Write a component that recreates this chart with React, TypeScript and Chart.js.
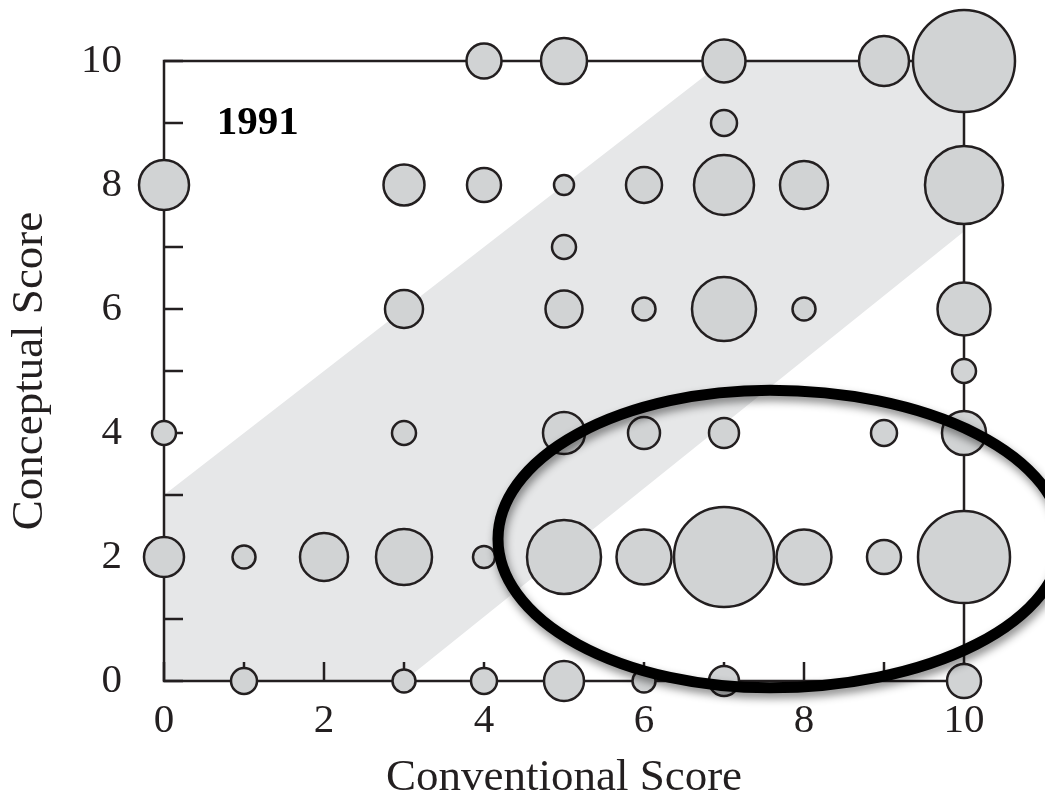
import React, { useEffect, useRef } from 'react';
import { Chart, registerables } from 'chart.js';

Chart.register(...registerables);

// ---- data ----
const xTickValues = [0, 1, 2, 3, 4, 5, 6, 7, 8, 9, 10];
const yTickValues = [0, 1, 2, 3, 4, 5, 6, 7, 8, 9, 10];

const bubbleX = [
  4, 5, 7, 9, 10,
  7,
  0, 3, 4, 5, 6, 7, 8, 10,
  5,
  3, 5, 6, 7, 8, 10,
  10,
  0, 3, 5, 6, 7, 9, 10,
  0, 1, 2, 3, 4, 5, 6, 7, 8, 9, 10,
  1, 3, 4, 5, 6, 7, 10,
];
const bubbleY = [
  10, 10, 10, 10, 10,
  9,
  8, 8, 8, 8, 8, 8, 8, 8,
  7,
  6, 6, 6, 6, 6, 6,
  5,
  4, 4, 4, 4, 4, 4, 4,
  2, 2, 2, 2, 2, 2, 2, 2, 2, 2, 2,
  0, 0, 0, 0, 0, 0, 0,
];
const bubbleRadius = [
  17.5, 23, 21.5, 25, 51,
  13,
  25, 20.5, 17, 10, 18, 30, 24, 39,
  12,
  19, 18.5, 11.5, 32, 11.5, 26.5,
  12,
  12, 12, 21, 16, 15, 13, 22,
  20, 11.5, 24, 28, 11, 37, 27.5, 50, 27.5, 17, 46,
  13, 11.5, 13, 20, 11.5, 15, 17,
];

// shaded diagonal band (upper and lower boundaries)
const bandUpperX = [0, 7, 10];
const bandUpperY = [3, 10, 10];
const bandLowerX = [0, 3, 10];
const bandLowerY = [0, 0, 7.25];

// highlight loop (data units): centre, left / right half-widths, half-height
const loopCenter = [7.575, 2.29];
const loopHalfWidthLeft = 3.4;
const loopHalfWidthRight = 3.65;
const loopHalfHeight = 2.4;

const yearLabel = '1991';
const yearLabelPos = [0.66, 9];

const xTitle = 'Conventional Score';
const yTitle = 'Conceptual Score';

const FONT = "'Liberation Serif', 'Times New Roman', serif";
const INK = '#231f20';

const decorPlugin = {
  id: 'decor',
  beforeDatasetDraw(chart: any, args: any) {
    if (args.index !== 0) return;
    const { ctx, chartArea } = chart;
    const xs = chart.scales.x;
    const ys = chart.scales.y;
    ctx.save();
    ctx.strokeStyle = INK;
    ctx.lineWidth = 2.5;
    ctx.lineCap = 'butt';
    ctx.strokeRect(chartArea.left, chartArea.top, chartArea.right - chartArea.left, chartArea.bottom - chartArea.top);
    ctx.beginPath();
    xTickValues.forEach((v) => {
      const px = xs.getPixelForValue(v);
      ctx.moveTo(px, chartArea.bottom);
      ctx.lineTo(px, chartArea.bottom - 19);
    });
    yTickValues.forEach((v) => {
      const py = ys.getPixelForValue(v);
      ctx.moveTo(chartArea.left, py);
      ctx.lineTo(chartArea.left + 19, py);
    });
    ctx.stroke();
    ctx.restore();
  },
  afterDatasetsDraw(chart: any) {
    const { ctx } = chart;
    const xs = chart.scales.x;
    const ys = chart.scales.y;
    // year label
    ctx.save();
    ctx.font = `bold 41px ${FONT}`;
    ctx.fillStyle = '#000';
    ctx.textAlign = 'left';
    ctx.textBaseline = 'middle';
    ctx.fillText(yearLabel, xs.getPixelForValue(yearLabelPos[0]), ys.getPixelForValue(yearLabelPos[1]));
    ctx.restore();
    // hand-drawn style loop
    const cx = xs.getPixelForValue(loopCenter[0]);
    const cy = ys.getPixelForValue(loopCenter[1]);
    const rxL = cx - xs.getPixelForValue(loopCenter[0] - loopHalfWidthLeft);
    const rxR = xs.getPixelForValue(loopCenter[0] + loopHalfWidthRight) - cx;
    const ry = cy - ys.getPixelForValue(loopCenter[1] + loopHalfHeight);
    ctx.save();
    ctx.shadowColor = 'rgba(0,0,0,0.45)';
    ctx.shadowBlur = 8;
    ctx.shadowOffsetX = 2;
    ctx.shadowOffsetY = 5;
    ctx.strokeStyle = '#000';
    ctx.lineWidth = 11;
    ctx.beginPath();
    ctx.ellipse(cx, cy, rxR, ry, 0, -Math.PI / 2, Math.PI / 2);
    ctx.ellipse(cx, cy, rxL, ry, 0, Math.PI / 2, (3 * Math.PI) / 2);
    ctx.closePath();
    ctx.stroke();
    ctx.restore();
  },
};

export default function App() {
  const ref = useRef<HTMLCanvasElement | null>(null);
  useEffect(() => {
    if (!ref.current) return;
    const chart = new Chart(ref.current, {
      type: 'bubble',
      data: {
        datasets: [
          {
            type: 'bubble',
            data: bubbleX.map((x, i) => ({ x, y: bubbleY[i], r: bubbleRadius[i] })),
            backgroundColor: '#d1d3d4',
            borderColor: INK,
            borderWidth: 2.5,
            clip: false,
            order: 0,
          } as any,
          {
            type: 'line',
            data: bandUpperX.map((x, i) => ({ x, y: bandUpperY[i] })),
            borderColor: 'rgba(0,0,0,0)',
            borderWidth: 0,
            pointRadius: 0,
            backgroundColor: '#e6e7e8',
            fill: 2,
            tension: 0,
            order: 2,
          } as any,
          {
            type: 'line',
            data: bandLowerX.map((x, i) => ({ x, y: bandLowerY[i] })),
            borderColor: 'rgba(0,0,0,0)',
            borderWidth: 0,
            pointRadius: 0,
            backgroundColor: '#e6e7e8',
            fill: false,
            tension: 0,
            order: 3,
          } as any,
        ],
      },
      options: {
        responsive: false,
        animation: false,
        events: [],
        layout: { autoPadding: false, padding: { left: 0, top: 61, right: 81, bottom: 0 } },
        plugins: { legend: { display: false }, tooltip: { enabled: false } },
        scales: {
          x: {
            type: 'linear',
            min: 0,
            max: 10,
            afterFit: (s: any) => { s.height = 117; s.paddingLeft = 0; s.paddingRight = 0; },
            afterBuildTicks: (s: any) => { s.ticks = xTickValues.map((v) => ({ value: v })); },
            ticks: {
              autoSkip: false,
              padding: 16,
              color: INK,
              font: { family: FONT, size: 41, lineHeight: 1.2 },
              callback: (v: any) => (Number(v) % 2 === 0 ? String(v) : ''),
            },
            grid: { display: false, drawTicks: false },
            border: { display: false },
            title: {
              display: true,
              text: xTitle,
              color: INK,
              padding: 0,
              font: { family: FONT, size: 45, lineHeight: 0.9 },
            },
          },
          y: {
            type: 'linear',
            min: 0,
            max: 10,
            afterFit: (s: any) => { s.width = 164; s.paddingTop = 0; s.paddingBottom = 0; },
            afterBuildTicks: (s: any) => { s.ticks = yTickValues.map((v) => ({ value: v })); },
            ticks: {
              autoSkip: false,
              padding: 42,
              color: INK,
              font: { family: FONT, size: 41, lineHeight: 0.4 },
              callback: (v: any) => (Number(v) % 2 === 0 ? String(v) : ''),
            },
            grid: { display: false, drawTicks: false },
            border: { display: false },
            title: {
              display: true,
              text: yTitle,
              color: INK,
              padding: { top: 3, bottom: 0 },
              font: { family: FONT, size: 45, lineHeight: 1.2 },
            },
          },
        },
      },
      plugins: [decorPlugin],
    } as any);
    return () => chart.destroy();
  }, []);
  return (
    <div style={{ position: 'absolute', left: 0, top: 0, width: 1045, height: 798, background: '#fff' }}>
      <canvas ref={ref} width={1045} height={798} style={{ display: 'block', width: 1045, height: 798 }} />
    </div>
  );
}
